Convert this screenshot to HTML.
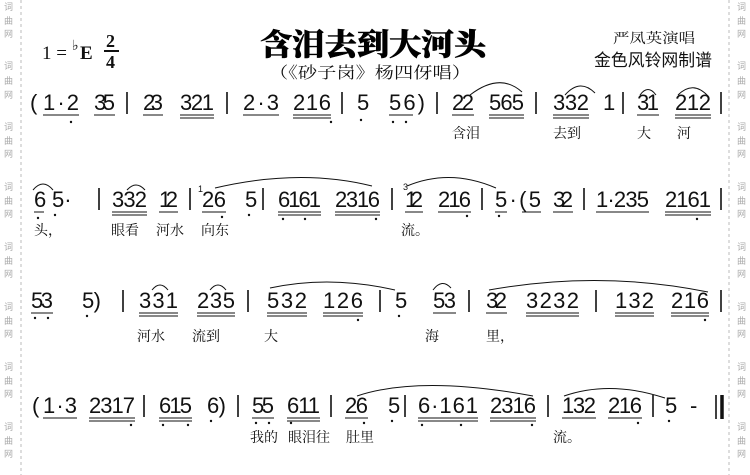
<!DOCTYPE html>
<html><head><meta charset="utf-8"><style>
html,body{margin:0;padding:0;background:#fff}
svg{display:block}
.n{font-family:"Liberation Sans",sans-serif;font-size:22px;fill:#111}
.l{font-family:"Liberation Serif","Noto Serif CJK SC",serif;font-size:14px;fill:#111}
.w{font-family:"Noto Sans CJK SC",sans-serif;font-size:9px;fill:#aaa}
</style></head><body>
<svg width="750" height="475" viewBox="0 0 750 475" xmlns="http://www.w3.org/2000/svg">
<line x1="21" y1="0" x2="21" y2="475" stroke="#bbb" stroke-dasharray="3,3"/>
<line x1="729" y1="0" x2="729" y2="475" stroke="#bbb" stroke-dasharray="3,3"/>
<g class="w">
<text x="4" y="10">词</text><text x="4" y="24">曲</text><text x="4" y="37">网</text>
<text x="4" y="69">词</text><text x="4" y="84">曲</text><text x="4" y="98">网</text>
<text x="4" y="130">词</text><text x="4" y="144">曲</text><text x="4" y="157">网</text>
<text x="4" y="190">词</text><text x="4" y="204">曲</text><text x="4" y="217">网</text>
<text x="4" y="250">词</text><text x="4" y="264">曲</text><text x="4" y="277">网</text>
<text x="4" y="310">词</text><text x="4" y="324">曲</text><text x="4" y="337">网</text>
<text x="4" y="370">词</text><text x="4" y="384">曲</text><text x="4" y="397">网</text>
<text x="4" y="430">词</text><text x="4" y="444">曲</text><text x="4" y="457">网</text>
<text x="737" y="10">词</text><text x="737" y="24">曲</text><text x="737" y="37">网</text>
<text x="737" y="69">词</text><text x="737" y="84">曲</text><text x="737" y="98">网</text>
<text x="737" y="130">词</text><text x="737" y="144">曲</text><text x="737" y="157">网</text>
<text x="737" y="190">词</text><text x="737" y="204">曲</text><text x="737" y="217">网</text>
<text x="737" y="250">词</text><text x="737" y="264">曲</text><text x="737" y="277">网</text>
<text x="737" y="310">词</text><text x="737" y="324">曲</text><text x="737" y="337">网</text>
<text x="737" y="370">词</text><text x="737" y="384">曲</text><text x="737" y="397">网</text>
<text x="737" y="430">词</text><text x="737" y="444">曲</text><text x="737" y="457">网</text>
</g>
<!-- header -->
<text x="42" y="59" font-family="Liberation Serif,serif" font-size="19" fill="#111">1 = </text>
<text x="72" y="50" font-family="Liberation Serif,serif" font-size="14" fill="#111">♭</text>
<text x="80" y="59" font-family="Liberation Serif,serif" font-size="19" font-weight="bold" fill="#111">E</text>
<text x="106" y="47" font-family="Liberation Serif,serif" font-size="18" font-weight="bold" fill="#111">2</text>
<line x1="104" y1="51" x2="119" y2="51" stroke="#111" stroke-width="2"/>
<text x="106" y="68" font-family="Liberation Serif,serif" font-size="18" font-weight="bold" fill="#111">4</text>
<text x="260" y="55" textLength="226" lengthAdjust="spacingAndGlyphs" font-family="Noto Serif CJK SC,serif" font-size="30" font-weight="900" fill="#000" stroke="#000" stroke-width="0.6">含泪去到大河头</text>
<text x="269" y="78" textLength="202" lengthAdjust="spacingAndGlyphs" font-family="Noto Serif CJK SC,serif" font-size="16" fill="#111">（《砂子岗》杨四伢唱）</text>
<text x="613" y="43" textLength="82" lengthAdjust="spacingAndGlyphs" font-family="Noto Serif CJK SC,serif" font-size="14" fill="#111">严凤英演唱</text>
<text x="594" y="66" textLength="118" lengthAdjust="spacingAndGlyphs" font-family="Noto Sans CJK SC,sans-serif" font-size="17" fill="#111">金色风铃网制谱</text>

<g class="n">
<!-- row1 baseline 110 -->
<text x="30" y="110">(</text>
<text x="43" y="110" textLength="36" lengthAdjust="spacing">1·2</text>
<text x="94" y="110" textLength="21" lengthAdjust="spacing">35</text>
<text x="143" y="110" textLength="20" lengthAdjust="spacing">23</text>
<text x="180" y="110" textLength="34" lengthAdjust="spacing">321</text>
<text x="243" y="110" textLength="36" lengthAdjust="spacing">2·3</text>
<text x="293" y="110" textLength="38" lengthAdjust="spacing">216</text>
<text x="357" y="110">5</text>
<text x="389" y="110" textLength="36" lengthAdjust="spacing">56)</text>
<text x="452" y="110" textLength="22" lengthAdjust="spacing">22</text>
<text x="489" y="110" textLength="35" lengthAdjust="spacing">565</text>
<text x="553" y="110" textLength="36" lengthAdjust="spacing">332</text>
<text x="603" y="110">1</text>
<text x="637" y="110" textLength="22" lengthAdjust="spacing">31</text>
<text x="675" y="110" textLength="36" lengthAdjust="spacing">212</text>
<!-- row2 baseline 207 -->
<text x="34" y="207">6</text>
<text x="52" y="207">5·</text>
<text x="112" y="207" textLength="35" lengthAdjust="spacing">332</text>
<text x="159" y="207" textLength="19" lengthAdjust="spacing">12</text>
<text x="202" y="207" textLength="24" lengthAdjust="spacing">26</text>
<text x="245" y="207">5</text>
<text x="278" y="207" textLength="43" lengthAdjust="spacing">6161</text>
<text x="335" y="207" textLength="45" lengthAdjust="spacing">2316</text>
<text x="405" y="207" textLength="18" lengthAdjust="spacing">12</text>
<text x="438" y="207" textLength="33" lengthAdjust="spacing">216</text>
<text x="495" y="207" textLength="46" lengthAdjust="spacing">5·(5</text>
<text x="553" y="207" textLength="20" lengthAdjust="spacing">32</text>
<text x="596" y="207" textLength="53" lengthAdjust="spacing">1·235</text>
<text x="665" y="207" textLength="46" lengthAdjust="spacing">2161</text>
<!-- row3 baseline 308 -->
<text x="31" y="308" textLength="22" lengthAdjust="spacing">53</text>
<text x="82" y="308" textLength="19" lengthAdjust="spacing">5)</text>
<text x="139" y="308" textLength="39" lengthAdjust="spacing">331</text>
<text x="197" y="308" textLength="38" lengthAdjust="spacing">235</text>
<text x="267" y="308" textLength="40" lengthAdjust="spacing">532</text>
<text x="323" y="308" textLength="40" lengthAdjust="spacing">126</text>
<text x="395" y="308">5</text>
<text x="433" y="308" textLength="23" lengthAdjust="spacing">53</text>
<text x="486" y="308" textLength="21" lengthAdjust="spacing">32</text>
<text x="526" y="308" textLength="53" lengthAdjust="spacing">3232</text>
<text x="615" y="308" textLength="39" lengthAdjust="spacing">132</text>
<text x="671" y="308" textLength="38" lengthAdjust="spacing">216</text>
<!-- row4 baseline 413 -->
<text x="32" y="413">(</text>
<text x="43" y="413" textLength="34" lengthAdjust="spacing">1·3</text>
<text x="89" y="413" textLength="46" lengthAdjust="spacing">2317</text>
<text x="159" y="413" textLength="33" lengthAdjust="spacing">615</text>
<text x="207" y="413" textLength="19" lengthAdjust="spacing">6)</text>
<text x="252" y="413" textLength="22" lengthAdjust="spacing">55</text>
<text x="287" y="413" textLength="33" lengthAdjust="spacing">611</text>
<text x="345" y="413" textLength="23" lengthAdjust="spacing">26</text>
<text x="388" y="413">5</text>
<text x="418" y="413" textLength="60" lengthAdjust="spacing">6·161</text>
<text x="490" y="413" textLength="46" lengthAdjust="spacing">2316</text>
<text x="562" y="413" textLength="34" lengthAdjust="spacing">132</text>
<text x="608" y="413" textLength="34" lengthAdjust="spacing">216</text>
<text x="665" y="413">5</text>
<text x="690" y="413">-</text>
</g>
<g font-family="Liberation Sans,sans-serif" font-size="9" fill="#111">
<text x="198" y="192">1</text><text x="403" y="190">3</text>
</g>
<g stroke="#111" stroke-width="1.6">
<line x1="127" y1="92" x2="127" y2="114"/><line x1="227" y1="92" x2="227" y2="114"/><line x1="342" y1="92" x2="342" y2="114"/><line x1="437" y1="92" x2="437" y2="114"/><line x1="536" y1="92" x2="536" y2="114"/><line x1="623" y1="92" x2="623" y2="114"/><line x1="721" y1="92" x2="721" y2="114"/>
<line x1="99" y1="188" x2="99" y2="210"/><line x1="190" y1="188" x2="190" y2="210"/><line x1="263" y1="188" x2="263" y2="210"/><line x1="392" y1="188" x2="392" y2="210"/><line x1="482" y1="188" x2="482" y2="210"/><line x1="584" y1="188" x2="584" y2="210"/><line x1="721" y1="188" x2="721" y2="210"/>
<line x1="123" y1="290" x2="123" y2="312"/><line x1="248" y1="290" x2="248" y2="312"/><line x1="380" y1="290" x2="380" y2="312"/><line x1="469" y1="290" x2="469" y2="312"/><line x1="596" y1="290" x2="596" y2="312"/><line x1="721" y1="290" x2="721" y2="312"/>
<line x1="144" y1="395" x2="144" y2="417"/><line x1="238" y1="395" x2="238" y2="417"/><line x1="331" y1="395" x2="331" y2="417"/><line x1="405" y1="395" x2="405" y2="417"/><line x1="548" y1="395" x2="548" y2="417"/><line x1="653" y1="395" x2="653" y2="417"/>
<line x1="716" y1="395" x2="716" y2="419"/><line x1="722" y1="395" x2="722" y2="419" stroke-width="3.5"/>
</g>
<g stroke="#111" stroke-width="1" fill="none">
<path d="M43 115h36M94 115h21M143 115h20M180 115h34M180 118h34M243 115h36M293 115h38M293 118h38M389 115h24M452 115h22M489 115h35M489 118h35M553 115h36M553 118h36M637 115h22M675 115h36M675 118h36"/>
<path d="M34 212h10M112 212h35M112 215h35M159 212h19M202 212h24M278 212h43M278 215h43M335 212h45M335 215h45M405 212h18M438 212h33M495 212h12M522 212h19M553 212h20M596 212h53M665 212h46M665 215h46"/>
<path d="M31 313h22M139 313h39M139 316h39M197 313h38M197 316h38M267 313h40M267 316h40M323 313h40M323 316h40M433 313h23M486 313h21M526 313h53M526 316h53M615 313h39M615 316h39M671 313h38M671 316h38"/>
<path d="M43 418h34M89 418h46M89 421h46M159 418h33M159 421h33M252 418h22M287 418h33M287 421h33M345 418h23M418 418h60M418 421h60M490 418h46M490 421h46M562 418h34M608 418h34"/>
<path d="M470 95 Q500 72 522 92"/><path d="M565 95 Q580 78 595 93"/><path d="M640 95 Q648 84 656 95"/><path d="M678 95 Q693 80 708 96"/>
<path d="M33 190 Q43 178 53 190"/><path d="M127 190 Q136 180 145 190"/><path d="M215 188 Q300 168 372 186"/><path d="M407 186 Q450 168 496 188"/>
<path d="M152 290 Q160 280 168 290"/><path d="M210 290 Q218 280 226 290"/><path d="M270 288 Q330 275 395 290"/><path d="M433 290 Q442 278 451 288"/><path d="M489 290 Q600 270 708 292"/>
<path d="M357 396 Q420 375 533 396"/><path d="M564 396 Q610 380 665 398"/>
</g>
<g fill="#111">
<circle cx="71" cy="122" r="1.2"/><circle cx="331" cy="122" r="1.2"/><circle cx="361" cy="120" r="1.2"/><circle cx="393" cy="122" r="1.2"/><circle cx="406" cy="122" r="1.2"/>
<circle cx="38" cy="218" r="1.2"/><circle cx="55" cy="215" r="1.2"/><circle cx="222" cy="217" r="1.2"/><circle cx="249" cy="215" r="1.2"/><circle cx="283" cy="219" r="1.2"/><circle cx="305" cy="219" r="1.2"/><circle cx="376" cy="219" r="1.2"/><circle cx="467" cy="216" r="1.2"/><circle cx="499" cy="216" r="1.2"/><circle cx="697" cy="219" r="1.2"/>
<circle cx="35" cy="318" r="1.2"/><circle cx="48" cy="318" r="1.2"/><circle cx="87" cy="316" r="1.2"/><circle cx="358" cy="320" r="1.2"/><circle cx="399" cy="316" r="1.2"/><circle cx="705" cy="320" r="1.2"/>
<circle cx="131" cy="425" r="1.2"/><circle cx="163" cy="425" r="1.2"/><circle cx="188" cy="425" r="1.2"/><circle cx="211" cy="421" r="1.2"/><circle cx="256" cy="423" r="1.2"/><circle cx="269" cy="423" r="1.2"/><circle cx="291" cy="423" r="1.2"/><circle cx="364" cy="423" r="1.2"/><circle cx="392" cy="421" r="1.2"/><circle cx="422" cy="425" r="1.2"/><circle cx="461" cy="425" r="1.2"/><circle cx="532" cy="425" r="1.2"/><circle cx="638" cy="423" r="1.2"/><circle cx="669" cy="421" r="1.2"/>
</g>
<g class="l">
<text x="452" y="138">含泪</text><text x="553" y="138">去到</text><text x="637" y="138">大</text><text x="677" y="138">河</text>
<text x="34" y="235">头，</text><text x="111" y="235">眼看</text><text x="156" y="235">河水</text><text x="201" y="235">向东</text><text x="401" y="235">流。</text>
<text x="137" y="341">河水</text><text x="192" y="341">流到</text><text x="264" y="341">大</text><text x="425" y="341">海</text><text x="486" y="341">里，</text>
<text x="250" y="442">我的</text><text x="288" y="442">眼泪往</text><text x="346" y="442">肚里</text><text x="553" y="442">流。</text>
</g>
</svg>
</body></html>
